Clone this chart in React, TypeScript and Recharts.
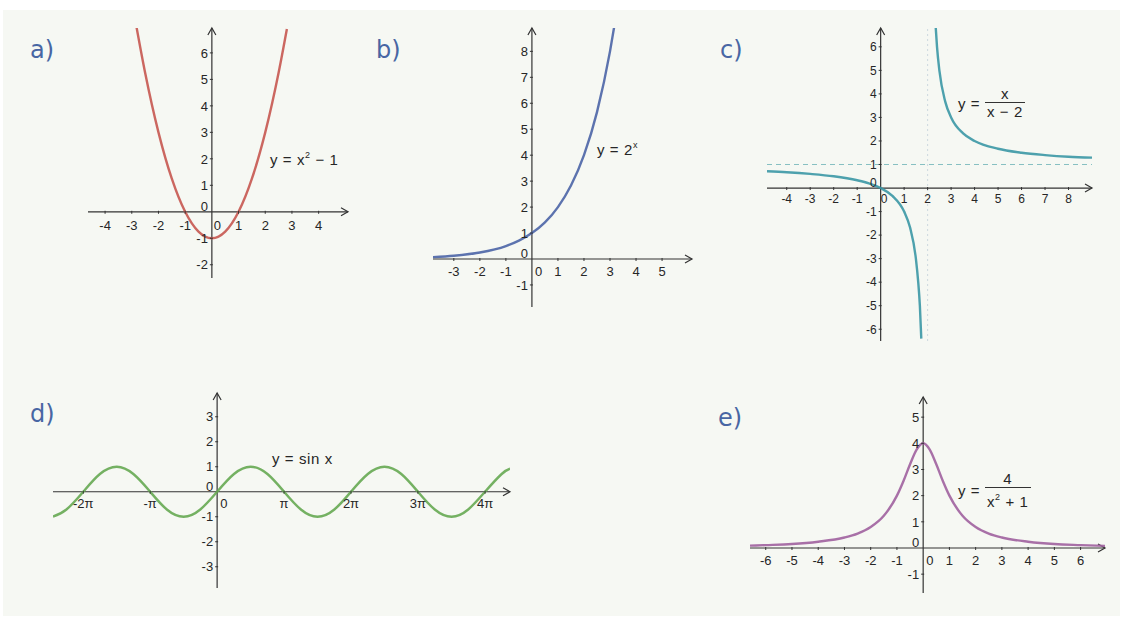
import React from "react";
import { LineChart, Line, XAxis, YAxis, ReferenceLine, ReferenceDot } from "recharts";

type Pt = { x: number; y: number };
type Tick = { v: number; label: string };

const toPts = (xs: number[], ys: number[]): Pt[] => xs.map((x, i) => ({ x, y: ys[i] }));
const toTicks = (vs: number[], labels?: string[]): Tick[] =>
  vs.map((v, i) => ({ v, label: labels ? labels[i] : String(v) }));

// a) y = x^2 - 1
const parabolaX = [-2.84, -2.5, -2, -1.5, -1, -0.5, 0, 0.5, 1, 1.5, 2, 2.5, 2.81];
const parabolaY = [7.07, 5.25, 3, 1.25, 0, -0.75, -1, -0.75, 0, 1.25, 3, 5.25, 6.9];
const aTicksX = [-4, -3, -2, -1, 1, 2, 3, 4];
const aTicksY = [-2, -1, 1, 2, 3, 4, 5, 6];

// b) y = 2^x
const expX = [-3.8, -3, -2, -1, -0.5, 0, 0.5, 1, 1.5, 2, 2.5, 3, 3.18];
const expY = [0.07, 0.125, 0.25, 0.5, 0.71, 1, 1.41, 2, 2.83, 4, 5.66, 8, 9.06];
const bTicksX = [-3, -2, -1, 1, 2, 3, 4, 5];
const bTicksY = [-1, 1, 2, 3, 4, 5, 6, 7, 8];

// c) y = x / (x - 2), two branches
const hypLeftX = [-4.84, -4, -3, -2, -1, -0.5, 0, 0.5, 1, 1.25, 1.5, 1.6, 1.67, 1.73];
const hypLeftY = [0.71, 0.67, 0.6, 0.5, 0.33, 0.2, 0, -0.33, -1, -1.67, -3, -4, -5, -6.4];
const hypRightX = [2.34, 2.4, 2.5, 2.75, 3, 3.5, 4, 5, 6, 7, 8, 9];
const hypRightY = [6.9, 6, 5, 3.67, 3, 2.33, 2, 1.67, 1.5, 1.4, 1.33, 1.29];
const cTicksX = [-4, -3, -2, -1, 1, 2, 3, 4, 5, 6, 7, 8];
const cTicksY = [-6, -5, -4, -3, -2, -1, 1, 2, 3, 4, 5, 6];

// d) y = sin x
const sineX = [-7.7, -7.07, -6.28, -5.5, -4.71, -3.93, -3.14, -2.36, -1.57, -0.79, 0, 0.79, 1.57, 2.36, 3.14,
  3.93, 4.71, 5.5, 6.28, 7.07, 7.85, 8.64, 9.42, 10.21, 11.0, 11.78, 12.57, 13.35, 13.74];
const sineY = [-0.99, -0.71, 0, 0.71, 1, 0.71, 0, -0.71, -1, -0.71, 0, 0.71, 1, 0.71, 0,
  -0.71, -1, -0.71, 0, 0.71, 1, 0.71, 0, -0.71, -1, -0.71, 0, 0.71, 0.92];
const dTicksX = [-6.28, -3.14, 3.14, 6.28, 9.42, 12.57];
const dTickLabels = ["-2π", "-π", "π", "2π", "3π", "4π"];
const dTicksY = [-3, -2, -1, 1, 2, 3];

// e) y = 4 / (x^2 + 1)
const bellX = [-6.6, -6, -5, -4, -3, -2.5, -2, -1.5, -1, -0.75, -0.5, -0.25, 0, 0.25, 0.5, 0.75, 1, 1.5, 2, 2.5, 3, 4, 5, 6, 6.93];
const bellY = [0.09, 0.11, 0.15, 0.24, 0.4, 0.55, 0.8, 1.23, 2, 2.56, 3.2, 3.76, 4, 3.76, 3.2, 2.56, 2, 1.23, 0.8, 0.55, 0.4, 0.24, 0.15, 0.11, 0.08];
const eTicksX = [-6, -5, -4, -3, -2, -1, 1, 2, 3, 4, 5, 6];
const eTicksY = [-1, 1, 2, 3, 4, 5];

const AXIS = "#333";
const TEXT = "#262626";
const FONT = "'Liberation Sans', Arial, sans-serif";
const M = 24;

const hAxisShape = (p: any) => {
  const x1 = Math.min(p.x1, p.x2);
  const x2 = Math.max(p.x1, p.x2);
  const y = p.y1;
  return (
    <g>
      <line x1={x1} y1={y} x2={x2} y2={y} stroke={AXIS} strokeWidth={1.2} />
      <path d={`M${x2 - 7},${y - 4}L${x2},${y}L${x2 - 7},${y + 4}`} fill="none" stroke={AXIS} strokeWidth={1.2} />
    </g>
  );
};

const vAxisShape = (p: any) => {
  const y1 = Math.min(p.y1, p.y2);
  const y2 = Math.max(p.y1, p.y2);
  const x = p.x1;
  return (
    <g>
      <line x1={x} y1={y1} x2={x} y2={y2} stroke={AXIS} strokeWidth={1.2} />
      <path d={`M${x - 4},${y1 + 7}L${x},${y1}L${x + 4},${y1 + 7}`} fill="none" stroke={AXIS} strokeWidth={1.2} />
    </g>
  );
};

interface PanelProps {
  left: number;
  top: number;
  width: number;
  height: number;
  xDomain: [number, number];
  yDomain: [number, number];
  series: Pt[][];
  color: string;
  curve: "monotone" | "natural";
  xTicks: Tick[];
  yTicks: Tick[];
  fontSize: number;
  xLabelDy: number;
  zeroDx: number;
  children?: React.ReactNode;
}

function Panel(props: PanelProps) {
  const { left, top, width, height, xDomain, yDomain, series, color, curve, xTicks, yTicks, fontSize, xLabelDy, zeroDx } = props;
  const xTickShape = (label: string) => (p: any) => (
    <g>
      <line x1={p.cx} x2={p.cx} y1={p.cy - 1} y2={p.cy + 2} stroke={AXIS} strokeWidth={1} />
      <text x={p.cx} y={p.cy + xLabelDy} textAnchor="middle" fontSize={fontSize} fontFamily={FONT} fill={TEXT}>
        {label}
      </text>
    </g>
  );
  const yTickShape = (label: string) => (p: any) => (
    <g>
      <line x1={p.cx - 2} x2={p.cx + 1} y1={p.cy} y2={p.cy} stroke={AXIS} strokeWidth={1} />
      <text x={p.cx - 4} y={p.cy + fontSize * 0.36} textAnchor="end" fontSize={fontSize} fontFamily={FONT} fill={TEXT}>
        {label}
      </text>
    </g>
  );
  const zeroShape = (p: any) => (
    <g fontSize={fontSize} fontFamily={FONT} fill={TEXT}>
      <text x={p.cx - 4} y={p.cy - 1} textAnchor="end">0</text>
      <text x={p.cx + zeroDx} y={p.cy + xLabelDy}>0</text>
    </g>
  );

  return (
    <div style={{ position: "absolute", left: left - M, top: top - M }}>
      <LineChart width={width + 2 * M} height={height + 2 * M} margin={{ top: M, right: M, bottom: M, left: M }}>
        <XAxis dataKey="x" type="number" domain={xDomain} allowDataOverflow hide />
        <YAxis dataKey="y" type="number" domain={yDomain} allowDataOverflow hide />
        {props.children}
        <ReferenceLine y={0} shape={hAxisShape} />
        <ReferenceLine x={0} shape={vAxisShape} />
        {xTicks.map((t) => (
          <ReferenceDot key={"x" + t.v} x={t.v} y={0} r={0} shape={xTickShape(t.label)} />
        ))}
        {yTicks.map((t) => (
          <ReferenceDot key={"y" + t.v} x={0} y={t.v} r={0} shape={yTickShape(t.label)} />
        ))}
        <ReferenceDot x={0} y={0} r={0} shape={zeroShape} />
        {series.map((pts, i) => (
          <Line
            key={i}
            data={pts}
            dataKey="y"
            type={curve}
            stroke={color}
            strokeWidth={2.4}
            strokeOpacity={0.9}
            dot={false}
            activeDot={false}
            isAnimationActive={false}
          />
        ))}
      </LineChart>
    </div>
  );
}

const titleStyle = (left: number, top: number): React.CSSProperties => ({
  position: "absolute",
  left,
  top,
  fontFamily: "'Comic Sans MS', 'DejaVu Sans', sans-serif",
  fontSize: 24,
  color: "#4866a3",
  lineHeight: "28px",
});

const formulaStyle = (left: number, top: number): React.CSSProperties => ({
  position: "absolute",
  left,
  top,
  fontFamily: FONT,
  fontSize: 15,
  color: TEXT,
  letterSpacing: 0.6,
  whiteSpace: "nowrap",
});

const sup: React.CSSProperties = { fontSize: 9, verticalAlign: 7 };

function Fraction({ num, den }: { num: React.ReactNode; den: React.ReactNode }) {
  return (
    <span style={{ display: "inline-flex", flexDirection: "column", alignItems: "center", verticalAlign: "middle" }}>
      <span style={{ lineHeight: "16px" }}>{num}</span>
      <span style={{ lineHeight: "16px", borderTop: `1px solid ${AXIS}`, padding: "1px 2px 0" }}>{den}</span>
    </span>
  );
}

export default function App() {
  return (
    <div style={{ position: "absolute", left: 0, top: 0, width: 1123, height: 624, background: "#ffffff", overflow: "hidden" }}>
      <div style={{ position: "absolute", left: 3, top: 10, width: 1117, height: 606, background: "#f6f8f3" }} />

      <Panel
        left={88} top={28} width={260} height={250}
        xDomain={[-4.64, 5.1]} yDomain={[-2.5, 6.94]}
        series={[toPts(parabolaX, parabolaY)]} color="#c65650" curve="monotone"
        xTicks={toTicks(aTicksX)} yTicks={toTicks(aTicksY)} fontSize={13} xLabelDy={18} zeroDx={2}
      />
      <Panel
        left={433} top={28} width={259} height={279}
        xDomain={[-3.8, 6.15]} yDomain={[-1.85, 8.9]}
        series={[toPts(expX, expY)]} color="#4b64a6" curve="monotone"
        xTicks={toTicks(bTicksX)} yTicks={toTicks(bTicksY)} fontSize={13} xLabelDy={17} zeroDx={3}
      />
      <Panel
        left={767} top={28} width={325} height={313}
        xDomain={[-4.84, 9.0]} yDomain={[-6.5, 6.8]}
        series={[toPts(hypLeftX, hypLeftY), toPts(hypRightX, hypRightY)]} color="#3b97a5" curve="monotone"
        xTicks={toTicks(cTicksX)} yTicks={toTicks(cTicksY)} fontSize={12} xLabelDy={15} zeroDx={0}
      >
        <ReferenceLine y={1} stroke="#86c0c2" strokeWidth={1} strokeDasharray="5 4" />
        <ReferenceLine x={2} stroke="#cdd8df" strokeWidth={1} strokeDasharray="2 3" />
      </Panel>
      <Panel
        left={53} top={393} width={457} height={195}
        xDomain={[-7.7, 13.74]} yDomain={[-3.85, 3.95]}
        series={[toPts(sineX, sineY)]} color="#66a852" curve="natural"
        xTicks={toTicks(dTicksX, dTickLabels)} yTicks={toTicks(dTicksY)} fontSize={13} xLabelDy={16} zeroDx={3}
      />
      <Panel
        left={750} top={397} width={355} height={196}
        xDomain={[-6.6, 6.93]} yDomain={[-1.72, 5.77]}
        series={[toPts(bellX, bellY)]} color="#a0609e" curve="monotone"
        xTicks={toTicks(eTicksX)} yTicks={toTicks(eTicksY)} fontSize={13} xLabelDy={17} zeroDx={3}
      />

      <div style={titleStyle(30, 36)}>a)</div>
      <div style={titleStyle(376, 36)}>b)</div>
      <div style={titleStyle(720, 36)}>c)</div>
      <div style={titleStyle(30, 400)}>d)</div>
      <div style={titleStyle(718, 404)}>e)</div>

      <div style={formulaStyle(270, 150)}>
        y = x<span style={sup}>2</span> − 1
      </div>
      <div style={formulaStyle(597, 140)}>
        y = 2<span style={sup}>x</span>
      </div>
      <div style={{ ...formulaStyle(958, 86), display: "flex", alignItems: "center" }}>
        <span>y =&nbsp;</span>
        <Fraction num="x" den="x − 2" />
      </div>
      <div style={formulaStyle(272, 450)}>y = sin x</div>
      <div style={{ ...formulaStyle(958, 471), display: "flex", alignItems: "center" }}>
        <span>y =&nbsp;</span>
        <Fraction num="4" den={<>x<span style={sup}>2</span> + 1</>} />
      </div>
    </div>
  );
}
